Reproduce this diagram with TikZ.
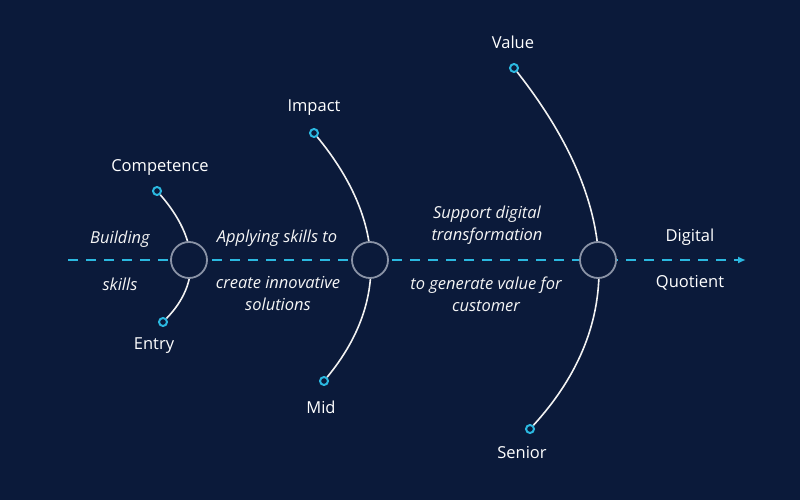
\documentclass[tikz,border=0pt]{standalone}
\usepackage{fontspec}
\setmainfont{Open Sans}
\usetikzlibrary{arrows.meta}
\definecolor{bgnavy}{HTML}{0B1A3A}
\definecolor{dqcyan}{HTML}{2BB8E0}
\definecolor{ringgray}{HTML}{8A93A6}
\tikzset{
  lbl/.style={text=white, font=\fontsize{16.5}{22}\selectfont},
  note/.style={text=white!92!gray, font=\fontsize{16.5}{22}\selectfont\itshape, align=center},
  stage/.style={circle, draw=ringgray, line width=1.8pt, fill=bgnavy, minimum size=36pt, inner sep=0pt},
  tip/.style={circle, draw=dqcyan, line width=2pt, fill=bgnavy, minimum size=8pt, inner sep=0pt},
  arc/.style={draw=white!90!gray, line width=1.6pt}
}
\begin{document}
\begin{tikzpicture}[x=1pt,y=-1pt]
  \fill[bgnavy] (0,0) rectangle (800,500);
  \useasboundingbox (0,0) rectangle (800,500);
  % axis
  \coordinate (start) at (68,260);
  \coordinate (end) at (746,260);
  \draw[dqcyan, line width=2pt, dash pattern=on 10pt off 8pt, -{Latex[length=8pt,width=7pt]}] (start) -- (end);
  % arcs
  \node[tip] (t1) at (157,191) {};
  \node[tip] (b1) at (163,322) {};
  \node[tip] (t2) at (314,133) {};
  \node[tip] (b2) at (324,381) {};
  \node[tip] (t3) at (514,68) {};
  \node[tip] (b3) at (530,429) {};
  \path[arc] (t1) .. controls (199,239.3) and (201,283) .. (b1);
  \path[arc] (t2) .. controls (385.3,219.7) and (388.7,302.3) .. (b2);
  \path[arc] (t3) .. controls (620.7,203.7) and (626,324) .. (b3);
  % stages
  \node[stage] (s1) at (189,260) {};
  \node[stage] (s2) at (370,260) {};
  \node[stage] (s3) at (598,260) {};
  % labels
  \node[lbl] (competence) at (160,168) {Competence};
  \node[lbl] (entry) at (154,346) {Entry};
  \node[lbl] (impact) at (314,108) {Impact};
  \node[lbl] (mid) at (321,407) {Mid};
  \node[lbl] (value) at (513,42) {Value};
  \node[lbl] (senior) at (522,453) {Senior};
  \node[lbl] (digital) at (690,237) {Digital};
  \node[lbl] (quotient) at (690,283) {Quotient};
  \node[note] (building) at (120,239) {Building};
  \node[note] (skills) at (120,284) {skills};
  \node[note] (applying) at (277,238) {Applying skills to};
  \node[note] (create) at (278,294) {create innovative\\solutions};
  \node[note] (support) at (487,225) {Support digital\\transformation};
  \node[note] (generate) at (486,294) {to generate value for\\customer};
\end{tikzpicture}
\end{document}
